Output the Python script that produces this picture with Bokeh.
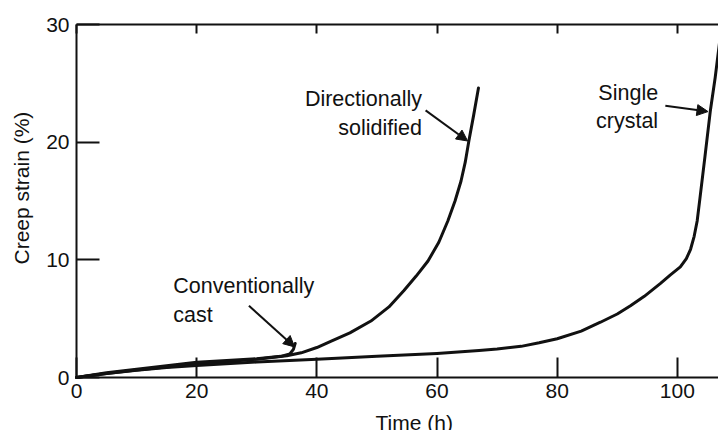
from bokeh.plotting import figure
from bokeh.models import LinearAxis, FixedTicker, Range1d, Label, Arrow, NormalHead
from bokeh.embed import file_html
from bokeh.resources import INLINE

# ---- data ----
time_single = [0, 2, 5, 10, 15, 20, 30, 40, 50, 60, 67, 70, 74, 77, 80, 84, 87.2, 90, 92.2,
               94.5, 97.2, 98.8, 100.5, 101.5, 102.2, 102.8, 103.3, 103.8, 104.6, 105.5, 106.3, 107.2]
strain_single = [0, 0.15, 0.35, 0.62, 0.85, 1.02, 1.32, 1.55, 1.8, 2.05, 2.3, 2.42, 2.65, 2.95, 3.3,
                 3.95, 4.7, 5.4, 6.1, 6.9, 8.0, 8.7, 9.4, 10.1, 10.9, 12.0, 13.3, 15.4, 18.8, 22.7, 25.5, 29.2]

time_ds = [0, 5, 10, 20, 30, 35, 37.4, 40, 42.4, 45.5, 49, 52, 54.5, 56.5, 58.5, 60.3, 61.8,
           63, 64, 64.7, 65.3, 66.1, 66.9]
strain_ds = [0, 0.35, 0.65, 1.15, 1.55, 1.85, 2.1, 2.55, 3.1, 3.8, 4.8, 6.0, 7.4, 8.6, 9.9, 11.5,
             13.3, 15.0, 16.7, 18.3, 20.1, 22.3, 24.6]

time_cc = [0, 5, 10, 20, 25, 30, 34, 35.5, 36.1, 36.4]
strain_cc = [0, 0.4, 0.7, 1.3, 1.45, 1.6, 1.8, 2.0, 2.4, 2.9]

x_ticks = [0, 20, 40, 60, 80, 100]
y_ticks = [0, 10, 20, 30]

X_MIN, X_MAX = 0, 106.85
Y_MIN, Y_MAX = 0, 30

FONT = "Liberation Sans"
FS = "21px"
INK = "#111111"

# the frame covers the whole canvas; the axes are pinned at x=0, y=0 and y=30
p = figure(width=718, height=430, x_range=Range1d(-12.65, X_MAX), y_range=Range1d(-4.5, 32.04),
           x_axis_type=None, y_axis_type=None, output_backend="svg", toolbar_location=None,
           min_border_left=0, min_border_right=0, min_border_top=0, min_border_bottom=0)
p.outline_line_color = None
p.background_fill_color = "white"
p.border_fill_color = "white"


def style_axis(ax, ticks, tick_in, standoff):
    ax.ticker = FixedTicker(ticks=ticks)
    ax.axis_line_width = 2
    ax.axis_line_color = INK
    ax.major_tick_in = tick_in
    ax.major_tick_out = 0
    ax.major_tick_line_width = 2
    ax.major_tick_line_color = INK
    ax.minor_tick_line_color = None
    ax.major_label_standoff = standoff
    ax.major_label_text_font = FONT
    ax.major_label_text_color = INK
    ax.major_label_text_font_size = FS


bottom = LinearAxis(fixed_location=Y_MIN, bounds=(X_MIN, X_MAX))
style_axis(bottom, x_ticks, 20, 6)

left = LinearAxis(fixed_location=X_MIN, bounds=(Y_MIN, Y_MAX))
style_axis(left, y_ticks, 23, 7)

top = LinearAxis(fixed_location=Y_MAX, bounds=(X_MIN, X_MAX))
style_axis(top, x_ticks, 9, 0)
top.major_label_text_font_size = "1px"
top.major_label_text_color = None

p.add_layout(bottom, "below")
p.add_layout(top, "above")
p.add_layout(left, "left")

for xs, ys in ((time_single, strain_single), (time_ds, strain_ds), (time_cc, strain_cc)):
    p.line(xs, ys, line_color=INK, line_width=3, line_join="round", line_cap="round")

# axis titles
p.add_layout(Label(x=56.2, y=-3.8, text="Time (h)", text_font=FONT, text_font_size=FS,
                   text_color=INK, text_align="center", text_baseline="alphabetic"))
p.add_layout(Label(x=-9.15, y=16.1, text="Creep strain (%)", text_font=FONT, text_font_size=FS,
                   text_color=INK, text_align="center", text_baseline="alphabetic",
                   angle=1.5707963))

# annotations
notes = [
    ("Directionally", 57.5, 23.7, "right"),
    ("solidified", 57.5, 21.2, "right"),
    ("Single", 96.8, 24.2, "right"),
    ("crystal", 96.8, 21.8, "right"),
    ("Conventionally", 16.1, 7.8, "left"),
    ("cast", 16.1, 5.3, "left"),
]
for t, x, y, al in notes:
    p.add_layout(Label(x=x, y=y, text=t, text_font=FONT, text_font_size="21.5px",
                       text_color=INK, text_align=al, text_baseline="alphabetic"))

arrows = [
    (58.1, 22.7, 65.1, 20.1),
    (98.0, 23.1, 105.1, 22.6),
    (28.7, 6.1, 36.3, 2.6),
]
for x0, y0, x1, y1 in arrows:
    p.add_layout(Arrow(x_start=x0, y_start=y0, x_end=x1, y_end=y1, line_width=2, line_color=INK,
                       end=NormalHead(size=11, fill_color=INK, line_color=INK, line_width=1)))

open("out.html", "w").write(file_html(p, INLINE))
